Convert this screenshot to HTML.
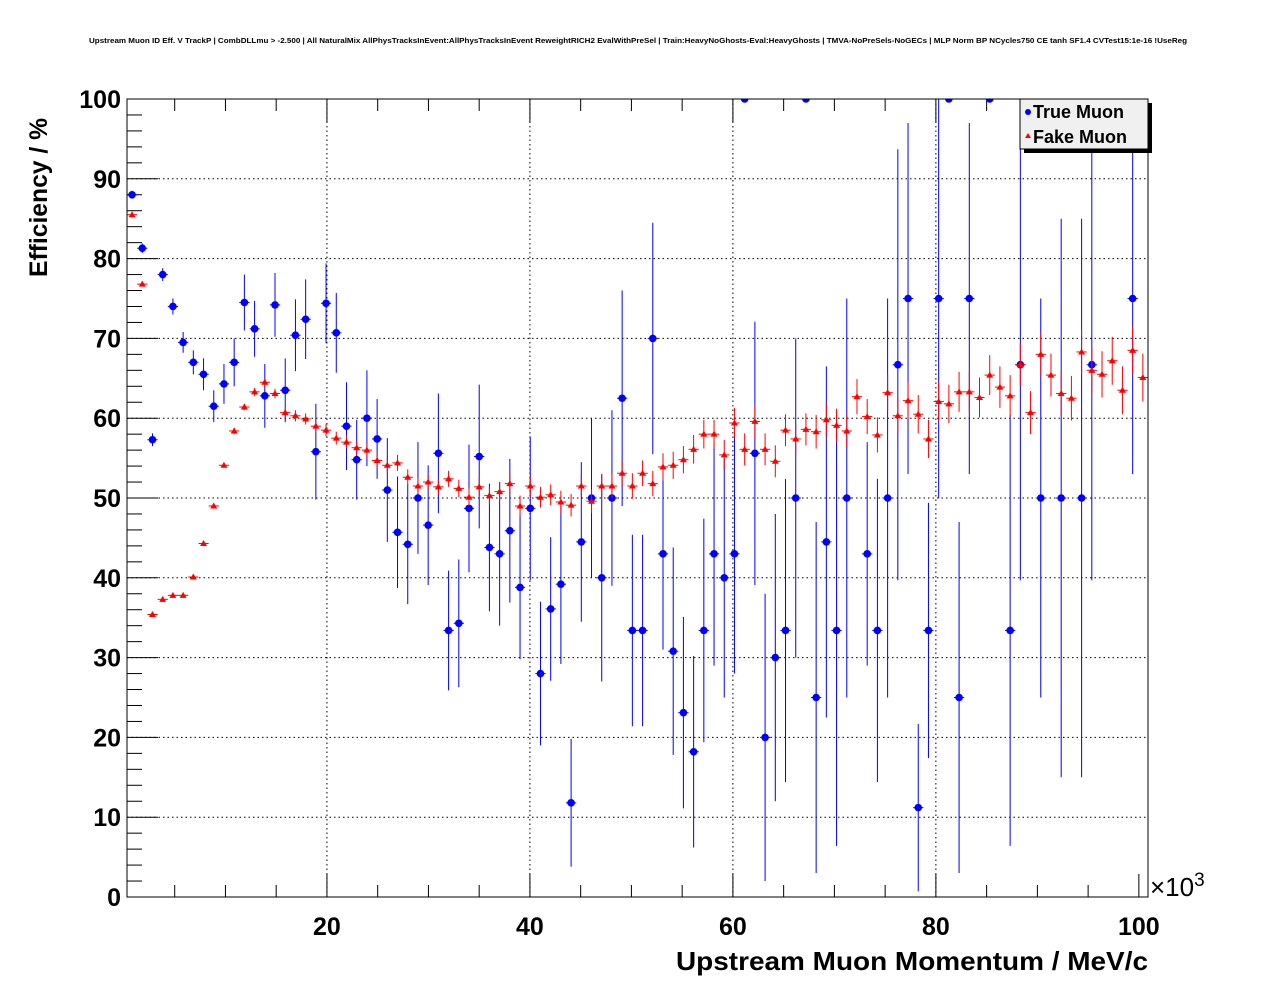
<!DOCTYPE html>
<html><head><meta charset="utf-8"><style>
html,body{margin:0;padding:0;background:#fff;}
svg{display:block;font-family:"Liberation Sans",sans-serif;}
</style></head><body>
<svg id="chart" width="1276" height="996">
<text x="89" y="43" font-size="7.5" font-weight="bold" textLength="1098" lengthAdjust="spacingAndGlyphs">Upstream Muon ID Eff. V TrackP | CombDLLmu &gt; -2.500 | All NaturalMix AllPhysTracksInEvent:AllPhysTracksInEvent ReweightRICH2 EvalWithPreSel | Train:HeavyNoGhosts-Eval:HeavyGhosts | TMVA-NoPreSels-NoGECs | MLP Norm BP NCycles750 CE tanh SF1.4 CVTest15:1e-16 !UseReg</text>
<text transform="translate(47,277) rotate(-90)" font-size="25" font-weight="bold" textLength="159" lengthAdjust="spacingAndGlyphs">Efficiency / %</text>
<text x="676" y="970" font-size="26" font-weight="bold" textLength="472" lengthAdjust="spacingAndGlyphs">Upstream Muon Momentum / MeV/c</text>
<text x="1150" y="896" font-size="26">×10<tspan font-size="19" dy="-10">3</tspan></text>
<g id="grid"></g><g id="ticks"></g><g id="marks"></g>
<rect x="127" y="99" width="1021" height="798" fill="none" stroke="#000" stroke-width="1"/>
<g>
<rect x="1024" y="103" width="128" height="50" fill="#000"/>
<rect x="1020" y="99" width="128" height="50" fill="#f0f0f0" stroke="#000" stroke-width="1"/>
<g><circle cx="1028" cy="112" r="3" fill="#0000ff"/><text x="1033" y="118" font-size="18" font-weight="bold">True Muon</text></g>
<g><polygon points="1028,133 1025,138 1031,138" fill="#ff0000"/><text x="1033" y="143" font-size="18" font-weight="bold">Fake Muon</text></g>
</g>
</svg>
<script>
const trueVals=[88,81.3,57.3,78,74,69.5,67,65.5,61.5,64.3,67,74.5,71.2,62.8,74.2,63.5,70.4,72.4,55.8,74.4,70.7,59,54.8,60,57.4,51,45.7,44.2,50,46.6,55.6,33.4,34.3,48.7,55.2,43.8,43,45.9,38.8,48.7,28,36.1,39.2,11.8,44.5,50,40,50,62.5,33.4,33.4,70,43,30.8,23.1,18.2,33.4,43,40,43,100,55.6,20,30,33.4,50,100,25,44.5,33.4,50,null,43,33.4,50,66.7,75,11.2,33.4,75,100,25,75,null,100,null,33.4,66.7,null,50,100,50,null,50,66.7,100,null,null,75,null];
const trueErrs=[0.5,0.6,0.8,0.8,1,1.3,1.5,2,2,2.5,3,3.5,3.5,4,4,4,4.5,5,6,5,5,5.5,5,6,5,6.5,7,7.5,7,7.5,7.5,7.5,8,8,9,8,9,9,9,9,9,9,10,8,10,10,13,11,13.5,12,12,14.5,12,13,12,12,14,14,15,15,0,16.5,18,18,19,20,0,22,22,27,25,0,14,19,25,27,22,10.5,16,25,0,22,22,0,0,0,27,27,0,25,0,35,0,35,27,0,0,0,22,0];
const fakeVals=[85.5,76.8,35.4,37.3,37.8,37.8,40.1,44.3,49,54.1,58.4,61.4,63.3,64.5,63.1,60.7,60.3,59.9,59,58.5,57.5,57,56.3,56,54.7,54.1,54.4,52.6,51.5,52,51.4,52.4,51.2,50.1,51.4,50.3,50.8,51.8,49,51.5,50.1,50.4,49.5,49.1,51.5,49.6,51.5,51.5,53.1,51.5,53.1,51.8,53.9,54.1,54.8,56.1,58,58,55.4,59.4,56.1,59.6,56.1,54.6,58.5,57.4,58.6,58.3,59.8,59.1,58.4,62.7,60.2,57.9,63.2,60.3,62.2,60.5,57.4,62.1,61.8,63.3,63.3,62.6,65.4,63.9,62.8,66.7,60.7,68,65.4,63.1,62.5,68.3,66,65.5,67.2,63.5,68.5,65.1];
const fakeErrs=[0.3,0.3,0.3,0.3,0.3,0.3,0.3,0.3,0.3,0.3,0.4,0.4,0.5,0.6,0.6,0.6,0.7,0.7,0.7,0.8,0.8,0.8,0.9,0.9,0.9,1,1,1,1,1,1,1,1.1,1.1,1.1,1.2,1.2,1.2,1.3,1.3,1.3,1.3,1.4,1.4,1.4,1.5,1.5,1.5,1.5,1.6,1.6,1.6,1.7,1.7,1.7,1.8,1.8,1.8,1.9,1.9,2,2,2,2,2,2,2,2.1,2.1,2.1,2.1,2.2,2.2,2.2,2.3,2.3,2.3,2.4,2.4,2.4,2.4,2.5,2.5,2.5,2.5,2.6,2.6,2.6,2.7,2.7,2.7,2.8,2.8,2.8,2.9,2.9,3,3,3,3];
const xTickLabels=["20","40","60","80","100"];
const yTickLabels=["0","10","20","30","40","50","60","70","80","90","100"];
const NS="http://www.w3.org/2000/svg";
const X0=127,X1=1148,Y0=897,Y1=99,XMIN=0.3,XMAX=100.9,BINW=1.006;
const sx=v=>X0+(v-XMIN)/(XMAX-XMIN)*(X1-X0);
const sy=v=>Y0-(v/100)*(Y0-Y1);
const binC=i=>0.8+i*BINW;
function mk(tag,attrs,parent){const e=document.createElementNS(NS,tag);for(const k in attrs)e.setAttribute(k,attrs[k]);parent.appendChild(e);return e;}
const grid=document.getElementById('grid'),ticks=document.getElementById('ticks'),marks=document.getElementById('marks');
yTickLabels.forEach(t=>{const v=+t,y=sy(v);
 if(v>0&&v<100){const g=mk('line',{x1:X0,x2:X1,y1:y,y2:y,stroke:'#000','stroke-dasharray':'1.5,3','stroke-width':1},grid);
 
 }
 const l=mk('line',{x1:X0,x2:X0+31,y1:y,y2:y,stroke:'#000'},ticks);
 
 
 const tx=mk('text',{x:121,y:y+9,'font-size':25,'font-weight':'bold','text-anchor':'end'},ticks);tx.textContent=t;
 
 
});
for(let v=2;v<100;v+=2){if(v%10===0)continue;const y=sy(v);
 const l=mk('line',{x1:X0,x2:X0+15,y1:y,y2:y,stroke:'#000'},ticks);
 
 }
for(let v=5;v<=100;v+=5){const x=sx(v),maj=v%20===0,len=maj?23:12;
 ['b','t'].forEach(s=>{const l=mk('line',{x1:x,x2:x,y1:s==='b'?Y0:Y1,y2:s==='b'?Y0-len:Y1+len,stroke:'#000'},ticks);
 
 });
 if(maj&&v<100){const g=mk('line',{x1:x,x2:x,y1:Y1,y2:Y0,stroke:'#000','stroke-dasharray':'1.5,3'},grid);
 
 }}
xTickLabels.forEach(t=>{const tx=mk('text',{x:sx(+t),y:935,'font-size':25,'font-weight':'bold','text-anchor':'middle'},ticks);tx.textContent=t;
 
 });
const defs=mk('defs',{},document.getElementById('chart'));
const cp=mk('clipPath',{id:'pc'},defs);mk('rect',{x:X0,y:Y1,width:X1-X0,height:Y0-Y1},cp);
marks.setAttribute('clip-path','url(#pc)');
function series(vals,errs,color,kind){vals.forEach((v,i)=>{if(v===null)return;
 const x=sx(binC(i)),y=sy(v),e=errs[i];
 const g=mk('g',{},marks);
 
 
 const hw=(sx(BINW)-sx(0))/2;
 mk('line',{x1:x-hw,x2:x+hw,y1:y,y2:y,stroke:color,'stroke-width':1},g);
 if(e>0)mk('line',{x1:x,x2:x,y1:sy(Math.min(100,v+e)),y2:sy(Math.max(0,v-e)),stroke:color,'stroke-width':1},g);
 if(kind==='c')mk('circle',{cx:x,cy:y,r:3.8,fill:color},g);
 else mk('polygon',{points:`${x},${y-3.5} ${x-3.5},${y+2.5} ${x+3.5},${y+2.5}`,fill:color},g);
});}
series(trueVals,trueErrs,'#0000ff','c');
series(fakeVals,fakeErrs,'#ff0000','t');
</script>
</body></html>
